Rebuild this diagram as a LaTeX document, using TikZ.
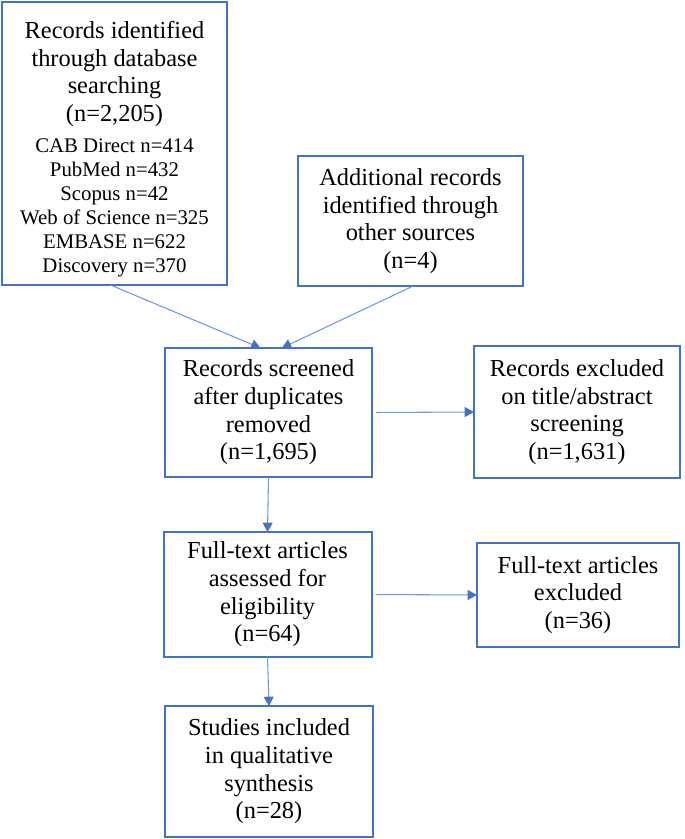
\documentclass[tikz,border=0pt]{standalone}
\usepackage{fontspec}
\setmainfont{Liberation Serif}
\newfontfamily\tnr{Liberation Serif}
\usetikzlibrary{arrows.meta}
\definecolor{boxblue}{HTML}{4472C4}
\definecolor{linkblue}{HTML}{6E9AE0}
\begin{document}
\begin{tikzpicture}[x=0.75pt,y=-0.75pt,
  box/.style={draw=boxblue,line width=1.5pt,inner sep=0pt,outer sep=0pt,align=center,font=\tnr\fontsize{18.3}{20.7}\selectfont},
  txt/.style={inner sep=0pt,align=center},
  link/.style={draw=linkblue,line width=0.8pt,-{Triangle[length=7pt,width=7.5pt,color=boxblue,fill=boxblue]}}]
\fill[white] (0,0) rectangle (685,839);
\useasboundingbox (0,0) rectangle (685,839);
% boxes
\node[box,minimum width=168.75pt,minimum height=212.25pt] (b1) at (114.5,143.5) {};
\node[txt,font=\tnr\fontsize{18.3}{20.8}\selectfont] (b1t) at (114.5,74) {Records identified\\through database\\searching\\(n=2,205)};
\node[txt,font=\tnr\fontsize{15.6}{18}\selectfont] (b1l) at (114.5,208) {CAB Direct n=414\\PubMed n=432\\Scopus n=42\\Web of Science n=325\\EMBASE n=622\\Discovery n=370};
\node[box,minimum width=168.75pt,minimum height=97.5pt] (b2) at (410.5,221) {Additional records\\identified through\\other sources\\(n=4)};
\node[box,minimum width=155.25pt,minimum height=96.75pt] (b3) at (268.5,412.5) {Records screened\\after duplicates\\removed\\(n=1,695)};
\node[box,minimum width=154.5pt,minimum height=99pt] (b4) at (577,412) {Records excluded\\on title/abstract\\screening\\(n=1,631)};
\node[box,minimum width=156pt,minimum height=93.75pt] (b5) at (267.5,594.5) {Full-text articles\\assessed for\\eligibility\\(n=64)};
\node[box,minimum width=151.5pt,minimum height=78pt] (b6) at (578,595) {Full-text articles\\excluded\\(n=36)};
\node[box,minimum width=156pt,minimum height=98.25pt] (b7) at (269,771.5) {Studies included\\in qualitative\\synthesis\\(n=28)};
% connectors
\draw[link] ([xshift=-3pt]b1.south) -- ([xshift=-6pt]b3.north);
\draw[link] ([xshift=2pt]b2.south) -- ([xshift=10pt]b3.north);
\draw[link,shorten <=3pt] (b3.east) -- (b4.west);
\draw[link] (b3.south) -- (b5.north);
\draw[link,shorten <=3pt] (b5.east) -- (b6.west);
\draw[link] (b5.south) -- (b7.north);
\end{tikzpicture}
\end{document}
